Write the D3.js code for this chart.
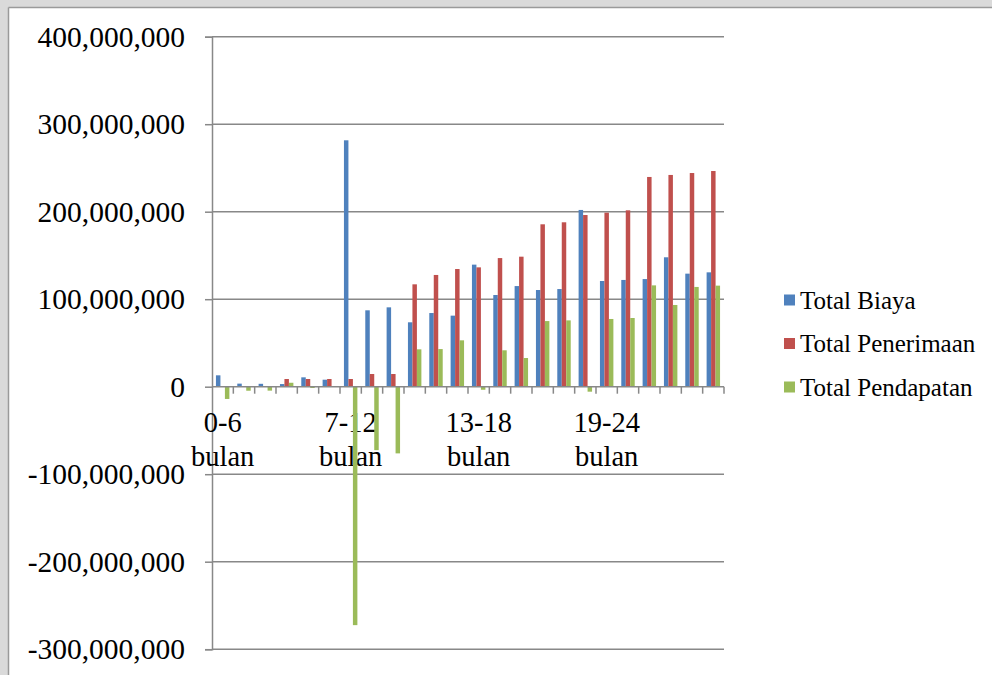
<!DOCTYPE html>
<html>
<head>
<meta charset="utf-8">
<script src="https://cdn.jsdelivr.net/npm/d3@7"></script>
<style>
  html, body { margin: 0; padding: 0; background: #dadada; }
  svg { display: block; }
  text { font-family: "Liberation Serif", "Times New Roman", serif; fill: #000; }
</style>
</head>
<body>
<svg id="chart" width="992" height="675"></svg>
<script>
// ---- Data (values in rupiah) ----
const categories = ["1","2","3","4","5","6","7","8","9","10","11","12",
                    "13","14","15","16","17","18","19","20","21","22","23","24"];
const seriesNames = ["Total Biaya", "Total Penerimaan", "Total Pendapatan"];
const totalBiaya = [13000000, 3500000, 3300000, 3000000, 10700000, 8000000,
  281600000, 87300000, 90700000, 73600000, 84200000, 81200000,
  139500000, 104800000, 115000000, 110500000, 111600000, 202000000,
  120800000, 122000000, 123000000, 147900000, 129200000, 130700000];
const totalPenerimaan = [0, 0, 0, 8800000, 8800000, 8800000,
  8800000, 14500000, 14500000, 117000000, 127700000, 134500000,
  136400000, 147000000, 148600000, 185600000, 187900000, 196200000,
  198900000, 201600000, 239700000, 242000000, 244200000, 246500000];
const totalPendapatan = [-14000000, -4600000, -4500000, 4500000, -1500000, 800000,
  -272500000, -72500000, -76200000, 42700000, 43000000, 53000000,
  -3500000, 41600000, 32800000, 75000000, 75800000, -5700000,
  77400000, 78500000, 115800000, 93400000, 114000000, 115500000];
const groupLabels = ["0-6 bulan", "7-12 bulan", "13-18 bulan", "19-24 bulan"];
const groupLabelCategories = ["1", "7", "13", "19"];
const yTicks = [-300000000, -200000000, -100000000, 0, 100000000, 200000000, 300000000, 400000000];
const colors = ["#4F81BD", "#C0504D", "#9BBB59"];

// ---- Layout ----
const svg = d3.select("#chart");
const W = 992, H = 675;
const plot = { left: 212, right: 724, top: 36.7, bottom: 649.2 };

// frame
svg.append("rect").attr("x", 0).attr("y", 0).attr("width", W).attr("height", H).attr("fill", "#dadada");
svg.append("rect").attr("x", 9).attr("y", 8).attr("width", W - 9).attr("height", H - 8).attr("fill", "#ffffff");
svg.append("line").attr("x1", 8.5).attr("x2", W).attr("y1", 7.5).attr("y2", 7.5).attr("stroke", "#9a9a9a").attr("stroke-width", 1.5);
svg.append("line").attr("x1", 8.5).attr("x2", 8.5).attr("y1", 7.5).attr("y2", H).attr("stroke", "#9a9a9a").attr("stroke-width", 1.5);

const y = d3.scaleLinear().domain([-300000000, 400000000]).range([plot.bottom, plot.top]);
const x0 = d3.scaleBand().domain(categories).range([plot.left, plot.right])
  .paddingInner(0.37).paddingOuter(0.185);
const x1 = d3.scaleBand().domain(seriesNames).range([0, x0.bandwidth()]);
const step = x0.step();

const gridColor = "#888888";

// gridlines
svg.append("g").selectAll("line").data(yTicks.filter(d => d !== 0)).join("line")
  .attr("x1", plot.left).attr("x2", plot.right)
  .attr("y1", d => y(d)).attr("y2", d => y(d))
  .attr("stroke", gridColor).attr("stroke-width", 1.5);

// y axis
const fmt = d3.format(",");
const yAxis = d3.axisLeft(y).tickValues(yTicks).tickSize(7).tickPadding(20)
  .tickFormat(d => fmt(d).replace("\u2212", "-"));
const gy = svg.append("g").attr("transform", `translate(${plot.left},0)`).call(yAxis);
gy.select(".domain").attr("stroke", gridColor).attr("stroke-width", 1.5);
gy.selectAll(".tick line").attr("stroke", gridColor).attr("stroke-width", 1.5);
gy.selectAll(".tick text").attr("font-size", 29.5)
  .attr("font-family", "'Liberation Serif', 'Times New Roman', serif").attr("fill", "#000");

// x category labels (two lines)
const xl = svg.append("g");
groupLabels.forEach((lab, i) => {
  const cx = x0(groupLabelCategories[i]) + x0.bandwidth() / 2;
  const parts = lab.split(" ");
  const t = xl.append("text").attr("text-anchor", "middle").attr("font-size", 28.5);
  t.append("tspan").attr("x", cx).attr("y", 432).text(parts[0]);
  t.append("tspan").attr("x", cx).attr("y", 466).text(parts[1]);
});

// bars
const series = [totalBiaya, totalPenerimaan, totalPendapatan];
const rows = categories.map((c, i) => ({ cat: c, vals: series.map((s, k) => ({ name: seriesNames[k], v: s[i], k })) }));
svg.append("g").selectAll("g").data(rows).join("g")
  .attr("transform", d => `translate(${x0(d.cat)},0)`)
  .selectAll("rect").data(d => d.vals).join("rect")
  .attr("x", d => x1(d.name))
  .attr("width", x1.bandwidth())
  .attr("y", d => Math.min(y(d.v), y(0)))
  .attr("height", d => Math.abs(y(d.v) - y(0)))
  .attr("fill", d => colors[d.k]);

// x axis line at zero with category boundary ticks
const y0 = y(0);
svg.append("line").attr("x1", plot.left).attr("x2", plot.right).attr("y1", y0).attr("y2", y0)
  .attr("stroke", gridColor).attr("stroke-width", 1.5);
const boundaries = categories.map(c => x0(c) - step * 0.185).concat([plot.right]);
svg.append("g").selectAll("line").data(boundaries.slice(1)).join("line")
  .attr("x1", d => d).attr("x2", d => d).attr("y1", y0).attr("y2", y0 + 7)
  .attr("stroke", gridColor).attr("stroke-width", 1.5);

// legend
const lg = svg.append("g");
seriesNames.forEach((n, i) => {
  const cy = 300 + i * 43.5;
  lg.append("rect").attr("x", 784).attr("y", cy - 5.5).attr("width", 11).attr("height", 11).attr("fill", colors[i]);
  lg.append("text").attr("x", 800).attr("y", cy).attr("dy", "0.35em").attr("font-size", 25).text(n);
});
</script>
</body>
</html>
